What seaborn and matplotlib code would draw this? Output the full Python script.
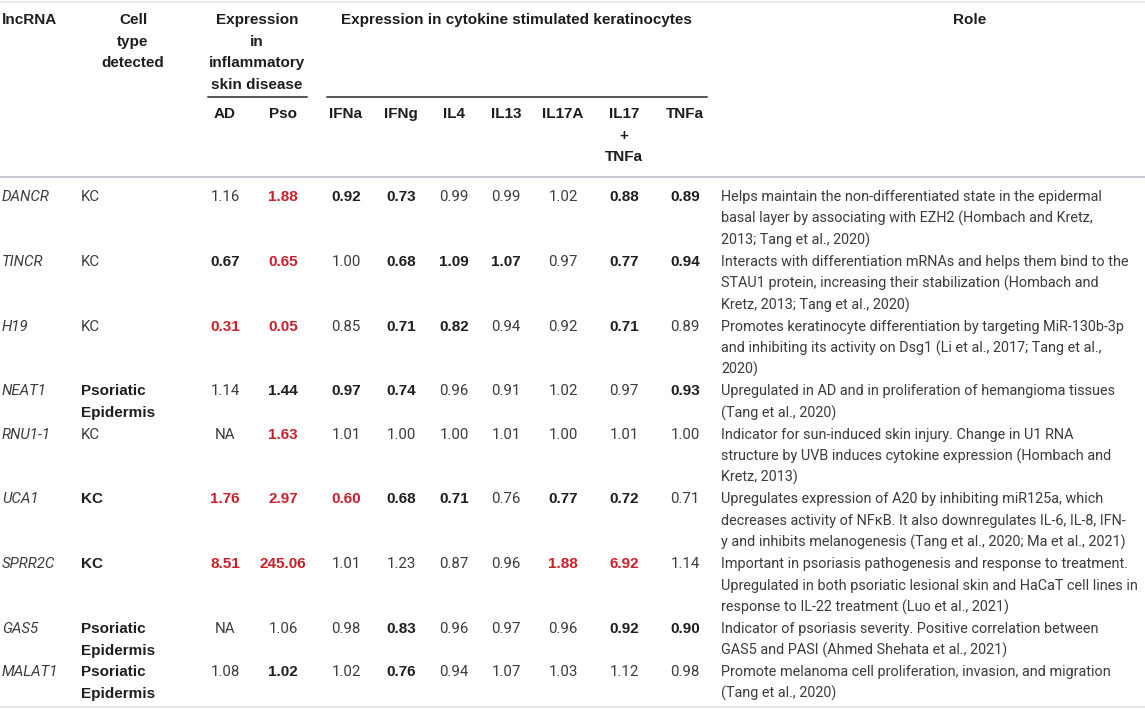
import numpy as np
import matplotlib
matplotlib.use("Agg")
from matplotlib import pyplot as plt
import seaborn as sns

# table content
lncrna = ["DANCR", "TINCR", "H19", "NEAT1", "RNU1-1", "UCA1", "SPRR2C", "GAS5", "MALAT1"]
cell_type = ["KC", "KC", "KC", "Psoriatic\nEpidermis", "KC", "KC", "KC",
             "Psoriatic\nEpidermis", "Psoriatic\nEpidermis"]
cell_bold = [0, 0, 0, 1, 0, 1, 1, 1, 1]

sub_headers = ["AD", "Pso", "IFNa", "IFNg", "IL4", "IL13", "IL17A", "IL17\n+\nTNFa", "TNFa"]
ad = ["1.16", "0.67", "0.31", "1.14", "NA", "1.76", "8.51", "NA", "1.08"]
pso = ["1.88", "0.65", "0.05", "1.44", "1.63", "2.97", "245.06", "1.06", "1.02"]
ifna = ["0.92", "1.00", "0.85", "0.97", "1.01", "0.60", "1.01", "0.98", "1.02"]
ifng = ["0.73", "0.68", "0.71", "0.74", "1.00", "0.68", "1.23", "0.83", "0.76"]
il4 = ["0.99", "1.09", "0.82", "0.96", "1.00", "0.71", "0.87", "0.96", "0.94"]
il13 = ["0.99", "1.07", "0.94", "0.91", "1.01", "0.76", "0.96", "0.97", "1.07"]
il17a = ["1.02", "0.97", "0.92", "1.02", "1.00", "0.77", "1.88", "0.96", "1.03"]
il17_tnfa = ["0.88", "0.77", "0.71", "0.97", "1.01", "0.72", "6.92", "0.92", "1.12"]
tnfa = ["0.89", "0.94", "0.89", "0.93", "1.00", "0.71", "1.14", "0.90", "0.98"]

# n = not significant, b = significant, r = strongly changed
sig_ad = ["n", "b", "r", "n", "n", "r", "r", "n", "n"]
sig_pso = ["r", "r", "r", "b", "r", "r", "r", "n", "b"]
sig_ifna = ["b", "n", "n", "b", "n", "r", "n", "n", "n"]
sig_ifng = ["b", "b", "b", "b", "n", "b", "n", "b", "b"]
sig_il4 = ["n", "b", "b", "n", "n", "b", "n", "n", "n"]
sig_il13 = ["n", "b", "n", "n", "n", "n", "n", "n", "n"]
sig_il17a = ["n", "n", "n", "n", "n", "b", "r", "n", "n"]
sig_il17_tnfa = ["b", "b", "b", "n", "n", "b", "r", "b", "n"]
sig_tnfa = ["b", "b", "n", "b", "n", "n", "n", "b", "n"]

roles = [
    "Helps maintain the non-differentiated state in the epidermal\nbasal layer by associating with EZH2 (Hombach and Kretz,\n2013; Tang et al., 2020)",
    "Interacts with differentiation mRNAs and helps them bind to the\nSTAU1 protein, increasing their stabilization (Hombach and\nKretz, 2013; Tang et al., 2020)",
    "Promotes keratinocyte differentiation by targeting MiR-130b-3p\nand inhibiting its activity on Dsg1 (Li et al., 2017; Tang et al.,\n2020)",
    "Upregulated in AD and in proliferation of hemangioma tissues\n(Tang et al., 2020)",
    "Indicator for sun-induced skin injury. Change in U1 RNA\nstructure by UVB induces cytokine expression (Hombach and\nKretz, 2013)",
    "Upregulates expression of A20 by inhibiting miR125a, which\ndecreases activity of NF\u03baB. It also downregulates IL-6, IL-8, IFN-\ny and inhibits melanogenesis (Tang et al., 2020; Ma et al., 2021)",
    "Important in psoriasis pathogenesis and response to treatment.\nUpregulated in both psoriatic lesional skin and HaCaT cell lines in\nresponse to IL-22 treatment (Luo et al., 2021)",
    "Indicator of psoriasis severity. Positive correlation between\nGAS5 and PASI (Ahmed Shehata et al., 2021)",
    "Promote melanoma cell proliferation, invasion, and migration\n(Tang et al., 2020)",
]

values = [ad, pso, ifna, ifng, il4, il13, il17a, il17_tnfa, tnfa]
sigs = [sig_ad, sig_pso, sig_ifna, sig_ifng, sig_il4, sig_il13, sig_il17a, sig_il17_tnfa, sig_tnfa]

sns.set_theme(style="white")
plt.rcParams["font.family"] = ["Roboto", "DejaVu Sans"]

fig = plt.figure(figsize=(11.45, 7.09), dpi=100)
ax = fig.add_axes([0, 0, 1, 1])
ax.set_xlim(0, 1145)
ax.set_ylim(709, 0)
ax.axis("off")

fs = 10.8
rfs = 10.4
bfs = 11.0
lh = 21.6
dark = "#1e1e1e"
light = "#3c3c3c"
red = "#cc1f28"
rule = "#c8c8d0"
body_weight = "normal"
bold_family = ["Liberation Sans", "DejaVu Sans"]

col_x = [225, 283, 346, 401, 454, 506, 563, 624, 685]


def head(x, y, s, ha="center"):
    for k, p in enumerate(s.split("\n")):
        ax.text(x, y + k * lh, p, fontsize=bfs, fontweight="bold", family=bold_family,
                color=dark, va="center", ha=ha)


# header
head(2, 20, "lncRNA", ha="left")
head(133, 20, "Cell\ntype\ndetected")
head(257, 20, "Expression\nin\ninflammatory\nskin disease")
head(516, 20, "Expression in cytokine stimulated keratinocytes")
head(970, 20, "Role")
for h, x in zip(sub_headers, col_x):
    head(x, 114, h)

# rules
ax.plot([0, 1145], [1.5, 1.5], color="#e6e6ea", lw=1.2)
ax.plot([208, 307], [97, 97], color="#555555", lw=1.4)
ax.plot([327, 707], [97, 97], color="#555555", lw=1.4)
ax.plot([0, 1145], [176.5, 176.5], color=rule, lw=1.4)
ax.plot([0, 1145], [706.5, 706.5], color="#e6e6ea", lw=1.4)

# body
y = 197
for r in range(len(lncrna)):
    ax.text(2, y, lncrna[r], fontsize=fs, fontstyle="italic", fontweight=body_weight,
            color=light, va="center", ha="left")
    for k, p in enumerate(cell_type[r].split("\n")):
        if cell_bold[r]:
            ax.text(81, y + k * lh, p, fontsize=bfs, fontweight="bold", family=bold_family,
                    color=dark, va="center", ha="left")
        else:
            ax.text(81, y + k * lh, p, fontsize=fs, fontweight=body_weight,
                    color=light, va="center", ha="left")
    for c in range(len(values)):
        s = sigs[c][r]
        if s == "n":
            ax.text(col_x[c], y, values[c][r], fontsize=fs, fontweight=body_weight,
                    color=light, va="center", ha="center")
        else:
            ax.text(col_x[c], y, values[c][r], fontsize=bfs, fontweight="bold",
                    family=bold_family, color=dark if s == "b" else red,
                    va="center", ha="center")
    lines = roles[r].split("\n")
    for k, p in enumerate(lines):
        ax.text(721, y + k * lh, p, fontsize=rfs, fontweight=body_weight, color=light,
                va="center", ha="left")
    y += lh * max(len(lines), len(cell_type[r].split("\n")))

fig.savefig("out.png", dpi=100)
